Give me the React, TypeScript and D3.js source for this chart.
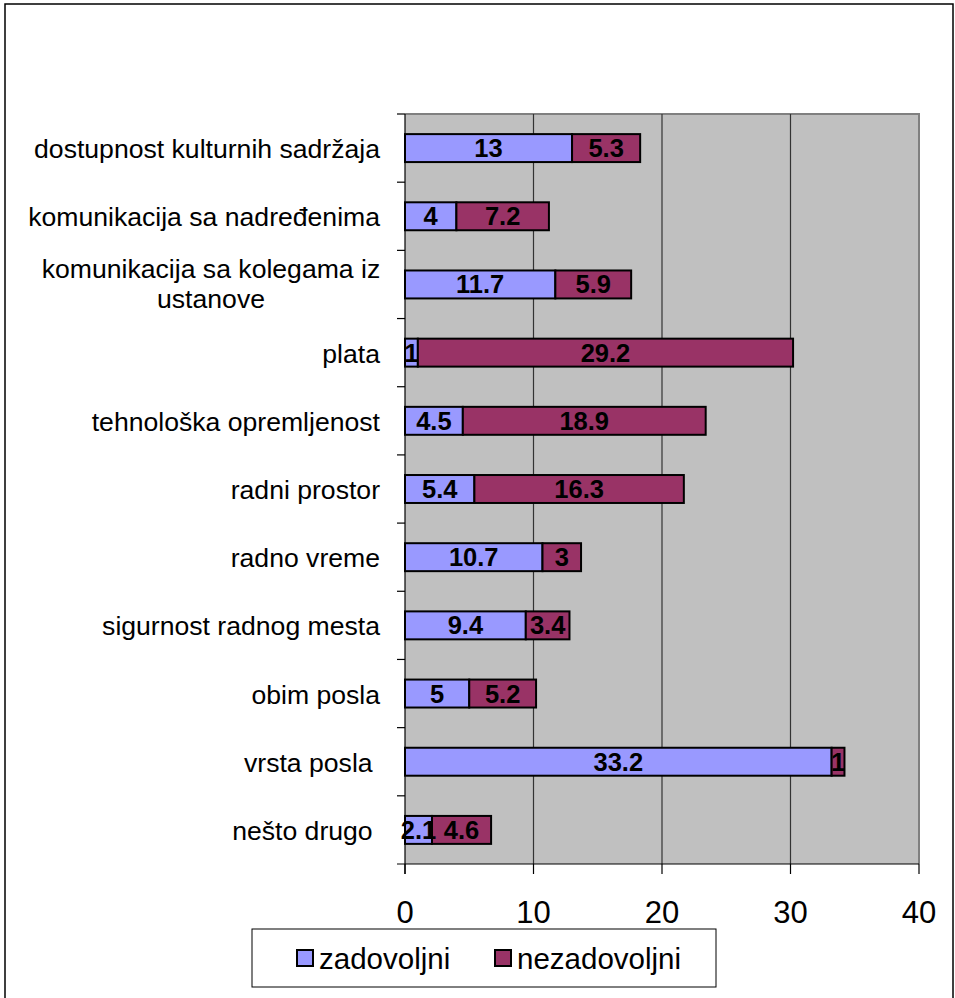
import React from "react";
import * as d3 from "d3";

// Workplace satisfaction survey: share of respondents per aspect
const categories = [
  "dostupnost kulturnih sadržaja",
  "komunikacija sa nadređenima",
  "komunikacija sa kolegama iz ustanove",
  "plata",
  "tehnološka opremljenost",
  "radni prostor",
  "radno vreme",
  "sigurnost radnog mesta",
  "obim posla",
  "vrsta posla ",
  "nešto drugo ",
];
const zadovoljni = [13, 4, 11.7, 1, 4.5, 5.4, 10.7, 9.4, 5, 33.2, 2.1];
const nezadovoljni = [5.3, 7.2, 5.9, 29.2, 18.9, 16.3, 3, 3.4, 5.2, 1, 4.6];
const xTicks = [0, 10, 20, 30, 40];
const seriesNames = ["zadovoljni", "nezadovoljni"];
const seriesColors = ["#9999FF", "#993366"];

// Category labels that wrap onto two lines
const wrappedLabels: Record<string, string[]> = {
  "komunikacija sa kolegama iz ustanove": ["komunikacija sa kolegama iz", "ustanove"],
};

const W = 955;
const H = 998;
const plot = { left: 405, right: 919, top: 114, bottom: 864 };
const FONT = "'Liberation Sans', Arial, Helvetica, sans-serif";

export default function App() {
  const x = d3.scaleLinear().domain([0, 40]).range([plot.left, plot.right]);
  const y = d3
    .scaleBand<string>()
    .domain(categories)
    .range([plot.top, plot.bottom])
    .paddingInner(0.59)
    .paddingOuter(0.295);
  const step = y.step();
  const boundaries = d3.range(categories.length + 1).map((i) => plot.top + i * step);

  const rows = categories.map((c, i) => {
    const a = zadovoljni[i];
    const b = nezadovoljni[i];
    return {
      c,
      segs: [
        { v: a, x0: x(0), x1: x(a), color: seriesColors[0] },
        { v: b, x0: x(a), x1: x(a + b), color: seriesColors[1] },
      ],
    };
  });

  return (
    <svg
      width={W}
      height={H}
      style={{ position: "absolute", left: 0, top: 0, background: "#fff" }}
      fontFamily={FONT}
    >
      {/* outer chart frame */}
      <rect x={5} y={4} width={948} height={1000} fill="#fff" stroke="#000" strokeWidth={1.5} />

      {/* plot background */}
      <rect
        x={plot.left}
        y={plot.top}
        width={plot.right - plot.left}
        height={plot.bottom - plot.top}
        fill="#C0C0C0"
      />
      {/* top and right plot border */}
      <path
        d={`M${plot.left},${plot.top}H${plot.right}V${plot.bottom}`}
        fill="none"
        stroke="#808080"
        strokeWidth={2}
      />

      {/* vertical gridlines */}
      {xTicks
        .filter((t) => t > 0 && t < 40)
        .map((t) => (
          <line key={t} x1={x(t)} x2={x(t)} y1={plot.top} y2={plot.bottom} stroke="#333" strokeWidth={1.2} />
        ))}

      {/* axes */}
      <line x1={plot.left} x2={plot.left} y1={plot.top} y2={plot.bottom + 10} stroke="#000" strokeWidth={1.2} />
      <line x1={plot.left - 8} x2={plot.right} y1={plot.bottom} y2={plot.bottom} stroke="#000" strokeWidth={1.2} />
      {boundaries.slice(0, -1).map((b, i) => (
        <line key={i} x1={plot.left - 8} x2={plot.left} y1={b} y2={b} stroke="#000" strokeWidth={1.2} />
      ))}
      {xTicks.map((t) => (
        <g key={t}>
          <line x1={x(t)} x2={x(t)} y1={plot.bottom} y2={plot.bottom + 10} stroke="#000" strokeWidth={1.2} />
          <text x={x(t)} y={923} textAnchor="middle" fontSize={31} fill="#000">
            {t}
          </text>
        </g>
      ))}

      {/* category labels */}
      {categories.map((c) => {
        const cy = (y(c) ?? 0) + y.bandwidth() / 2;
        const lines = wrappedLabels[c];
        if (lines) {
          const cx = 211;
          return (
            <text key={c} textAnchor="middle" fontSize={26.6} fill="#000">
              {lines.map((ln, k) => (
                <tspan key={k} x={cx} y={cy - 6.5 + k * 30}>
                  {ln}
                </tspan>
              ))}
            </text>
          );
        }
        return (
          <text
            key={c}
            x={380}
            y={cy + 10}
            textAnchor="end"
            fontSize={26.6}
            fill="#000"
            style={{ whiteSpace: "pre" }}
          >
            {c}
          </text>
        );
      })}

      {/* stacked bars */}
      {rows.map((r) => {
        const y0 = y(r.c) ?? 0;
        const bh = y.bandwidth();
        return (
          <g key={r.c}>
            {r.segs.map((s, k) => (
              <rect
                key={k}
                x={s.x0}
                y={y0}
                width={s.x1 - s.x0}
                height={bh}
                fill={s.color}
                stroke="#000"
                strokeWidth={2}
              />
            ))}
            {r.segs.map((s, k) => (
              <text
                key={"t" + k}
                x={(s.x0 + s.x1) / 2}
                y={y0 + bh / 2 + 9}
                textAnchor="middle"
                fontSize={25.5}
                fontWeight="bold"
                fill="#000"
              >
                {s.v}
              </text>
            ))}
          </g>
        );
      })}

      {/* legend */}
      <rect x={252} y={929} width={464} height={58} fill="#fff" stroke="#000" strokeWidth={1} />
      {seriesNames.map((n, i) => {
        const lx = i === 0 ? 297 : 495;
        return (
          <g key={n}>
            <rect x={lx} y={950} width={16} height={16} fill={seriesColors[i]} stroke="#000" strokeWidth={2} />
            <text x={lx + 22} y={969} fontSize={29.5} fill="#000">
              {n}
            </text>
          </g>
        );
      })}
    </svg>
  );
}
